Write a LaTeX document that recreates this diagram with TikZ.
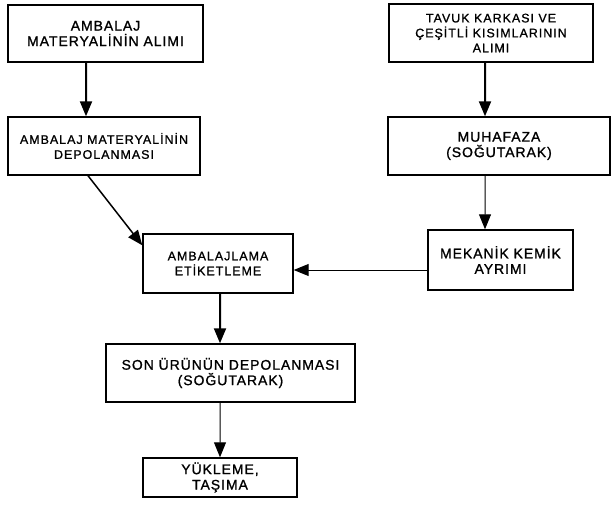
\documentclass[tikz,border=0pt]{standalone}
\usepackage{fontspec}
\setmainfont{Liberation Sans}
\usetikzlibrary{arrows.meta}
\begin{document}
\begin{tikzpicture}[x=1bp,y=-1bp,
  box/.style={draw,line width=1.4bp,align=center,inner sep=0pt,minimum width=#1},
  big/.style={font=\fontsize{14}{15.5}\selectfont\addfontfeatures{LetterSpace=7,FakeBold=1.2}},
  small/.style={font=\fontsize{12.5}{15}\selectfont\addfontfeatures{LetterSpace=8,FakeBold=1}},
  arr/.style={-{Triangle[length=15bp,width=12bp]},line width=#1},
  arr/.default=1bp]
\useasboundingbox (0,0) rectangle (612,520);
\node[box=195bp,minimum height=57bp,big] (b1) at (105.5,33.5) {AMBALAJ\\MATERYALİNİN ALIMI};
\node[box=192bp,minimum height=58bp,small] (b2) at (104,146) {AMBALAJ MATERYALİNİN\\DEPOLANMASI};
\node[box=150bp,minimum height=59bp,small] (b3) at (218,263.5) {AMBALAJLAMA\\ETİKETLEME};
\node[box=249bp,minimum height=58bp,big] (b4) at (230.5,373) {SON ÜRÜNÜN DEPOLANMASI\\(SOĞUTARAK)};
\node[box=154bp,minimum height=39bp,big] (b5) at (220,477.5) {YÜKLEME,\\TAŞIMA};
\node[box=204bp,minimum height=58bp,small] (r1) at (491,33) {TAVUK KARKASI VE\\ÇEŞİTLİ KISIMLARININ\\ALIMI};
\node[box=222bp,minimum height=58bp,big] (r2) at (499,146) {MUHAFAZA\\(SOĞUTARAK)};
\node[box=145bp,minimum height=60bp,big] (r3) at (500.5,260) {MEKANİK KEMİK\\AYRIMI};
\draw[arr=2bp] ([xshift=-19.5bp]b1.south) -- ([xshift=-18bp]b2.north);
\draw[arr=1.5bp] ([xshift=-16bp]b2.south) -- ([yshift=-12bp]b3.north west);
\draw[arr=2bp] ([xshift=2bp]b3.south) -- ([xshift=-10.5bp]b4.north);
\draw[arr] ([xshift=-10.5bp]b4.south) -- (b5.north);
\draw[arr=2bp] ([xshift=-6bp]r1.south) -- ([xshift=-14bp]r2.north);
\draw[arr] ([xshift=-14bp]r2.south) -- ([xshift=-15.5bp]r3.north);
\coordinate (h) at ([yshift=-10bp]r3.west);
\draw[arr] (h) -- (h -| b3.east);
\end{tikzpicture}
\end{document}
